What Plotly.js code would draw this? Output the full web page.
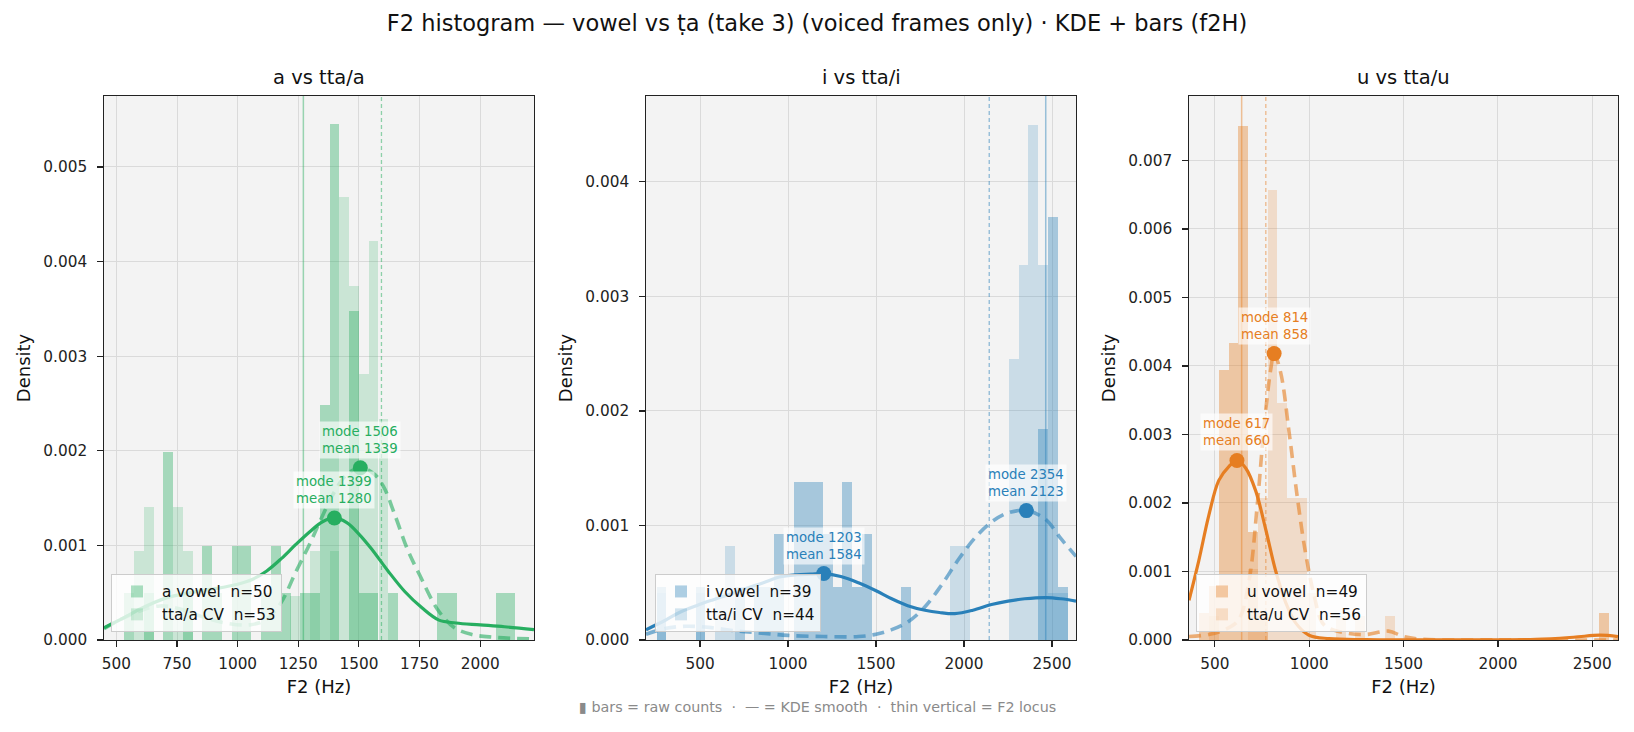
<!DOCTYPE html>
<html>
<head>
<meta charset="utf-8">
<script src="https://cdn.plot.ly/plotly-3.0.1.min.js"></script>
<style>
  html, body { margin: 0; padding: 0; background: #ffffff; }
  #chart { width: 1634px; height: 732px; }
</style>
</head>
<body>
<div id="chart"></div>
<script>
// ---------- panel "a": vowel a vs tta/a ----------
const aBinWidth = 40.3;
const aVowelN = 50;
const aCvN = 53;
const aVowelBins   = [553, 633, 714, 795, 875, 916, 996, 1037, 1117, 1157, 1198, 1278, 1319, 1359, 1399, 1480, 1520, 1560, 1641, 1843, 1883, 2084, 2124];
const aVowelCounts = [1, 1, 4, 1, 2, 1, 2, 2, 1, 2, 1, 1, 1, 5, 11, 7, 1, 1, 1, 1, 1, 1, 1];
const aCvBins      = [593, 633, 754, 795, 1238, 1319, 1399, 1439, 1480, 1520, 1560, 1601];
const aCvCounts    = [2, 3, 3, 2, 1, 2, 2, 10, 8, 6, 9, 5];
const aVowelKdeX = [449, 520, 600, 700, 800, 900, 1000, 1060, 1120, 1180, 1240, 1300, 1350, 1399, 1450, 1500, 1550, 1620, 1690, 1760, 1830, 1900, 2000, 2100, 2222];
const aVowelKdeY = [0.00013, 0.00022, 0.00033, 0.00044, 0.0005, 0.00054, 0.00059, 0.00064, 0.00073, 0.00086, 0.00101, 0.00115, 0.00125, 0.00129, 0.00124, 0.00112, 0.00097, 0.00073, 0.00051, 0.00034, 0.00021, 0.00018, 0.00016, 0.00014, 0.00011];
const aCvKdeX = [449, 520, 600, 680, 760, 850, 950, 1050, 1120, 1180, 1240, 1300, 1344, 1400, 1450, 1506, 1560, 1600, 1650, 1700, 1750, 1825, 1894, 1963, 2050, 2222];
const aCvKdeY = [0.00012, 0.00022, 0.00031, 0.00036, 0.00033, 0.00025, 0.00018, 0.00016, 0.00022, 0.0004, 0.00072, 0.00103, 0.00128, 0.00157, 0.00175, 0.00182, 0.00176, 0.00163, 0.00131, 0.00096, 0.00069, 0.00032, 0.00013, 0.00006, 0.00003, 0.00001];
const aModes = [1399, 1506];
const aModeDensity = [0.00129, 0.00182];
const aMeans = [1280, 1339];
const aLocus = [1271, 1593];

// ---------- panel "i": vowel i vs tta/i ----------
const iBinWidth = 55.6;
const iVowelN = 39;
const iCvN = 44;
const iVowelBins   = [280.6, 503.0, 725.4, 836.6, 892.2, 947.8, 1059.0, 1114.6, 1170.2, 1225.8, 1281.4, 1337.0, 1392.6, 1448.2, 1670.6, 2449.0, 2504.6, 2560.2];
const iVowelCounts = [1, 1, 1, 1, 1, 2, 3, 3, 3, 2, 1, 3, 1, 2, 1, 4, 8, 1];
const iCvBins      = [280.6, 503.0, 614.2, 669.8, 1948.6, 2004.2, 2282.2, 2337.8, 2393.4, 2449.0, 2504.6, 2560.2];
const iCvCounts    = [1, 1, 1, 2, 2, 2, 6, 8, 11, 8, 1, 1];
const iVowelKdeX = [193, 300, 383, 480, 572, 670, 761, 860, 951, 1050, 1130, 1203, 1300, 1400, 1500, 1589, 1680, 1778, 1860, 1948, 2050, 2156, 2250, 2345, 2468, 2550, 2636];
const iVowelKdeY = [0.00009, 0.00017, 0.00024, 0.0003, 0.00035, 0.0004, 0.00045, 0.0005, 0.00055, 0.00057, 0.000575, 0.00058, 0.000555, 0.0005, 0.00043, 0.00036, 0.0003, 0.00026, 0.00024, 0.00023, 0.00026, 0.00031, 0.00034, 0.00036, 0.00037, 0.00036, 0.00034];
const iCvKdeX = [193, 300, 420, 550, 700, 850, 1000, 1200, 1400, 1500, 1589, 1683, 1778, 1872, 1967, 2061, 2156, 2250, 2354, 2458, 2553, 2636];
const iCvKdeY = [0.00005, 0.0001, 0.00012, 0.00011, 0.00008, 0.00006, 0.00004, 0.00003, 0.00003, 0.00005, 0.00009, 0.00016, 0.00029, 0.00048, 0.0007, 0.00089, 0.00103, 0.00111, 0.00113, 0.00106, 0.00088, 0.00073];
const iModes = [1203, 2354];
const iModeDensity = [0.00058, 0.00113];
const iMeans = [1584, 2123];
const iLocus = [2464, 2143];

// ---------- panel "u": vowel u vs tta/u ----------
const uBinWidth = 51.7;
const uVowelN = 49;
const uCvN = 56;
const uVowelBins   = [443, 495, 547, 599, 650, 702, 754, 2563];
const uVowelCounts = [1, 2, 10, 11, 19, 4, 1, 1];
const uCvBins      = [495, 702, 754, 805, 857, 909, 960, 1012, 1167, 1271, 1426];
const uCvCounts    = [1, 3, 6, 19, 10, 6, 6, 2, 1, 1, 1];
const uVowelKdeX = [363, 415, 468, 521, 574, 617, 663, 716, 769, 822, 875, 928, 999, 1105, 1300, 1800, 2200, 2400, 2540, 2636];
const uVowelKdeY = [0.00058, 0.00116, 0.00182, 0.00233, 0.00253, 0.00262, 0.00251, 0.00218, 0.00162, 0.00101, 0.00055, 0.00025, 0.00007, 0.00002, 0.000005, 0.000003, 0.00001, 0.00004, 0.00007, 0.00005];
const uCvKdeX = [363, 468, 560, 627, 681, 725, 760, 796, 814, 849, 893, 937, 981, 1026, 1070, 1123, 1200, 1300, 1420, 1500, 1600, 2000, 2636];
const uCvKdeY = [0.00005, 0.00008, 0.00016, 0.0003, 0.00086, 0.00198, 0.00309, 0.00395, 0.00418, 0.0039, 0.00304, 0.00208, 0.00126, 0.00065, 0.00025, 0.00015, 0.0001, 0.00008, 0.00013, 0.00005, 0.00001, 0.000002, 0.000001];
const uModes = [617, 814];
const uModeDensity = [0.00262, 0.00418];
const uMeans = [660, 858];
const uLocus = [642, 770];

// ---------- figure geometry ----------
const FONT = 'DejaVu Sans, Verdana, sans-serif';
const FIG_W = 1634, FIG_H = 732;
const MARGIN = { l: 104, r: 16, t: 96, b: 92 };
const PAPER_W = FIG_W - MARGIN.l - MARGIN.r;
const PAPER_H = FIG_H - MARGIN.t - MARGIN.b;
const toPaperX = px => (px - MARGIN.l) / PAPER_W;
const toPaperY = py => (FIG_H - MARGIN.b - py) / PAPER_H;

function rgba(hex, a) {
  const n = parseInt(hex.slice(1), 16);
  return `rgba(${(n >> 16) & 255},${(n >> 8) & 255},${n & 255},${a})`;
}

const panels = [
  {
    vowel: 'a', color: '#27ae60', title: 'a vs tta/a',
    binWidth: aBinWidth, vowelN: aVowelN, cvN: aCvN,
    vowelBins: aVowelBins, vowelCounts: aVowelCounts, cvBins: aCvBins, cvCounts: aCvCounts,
    vowelKdeX: aVowelKdeX, vowelKdeY: aVowelKdeY, cvKdeX: aCvKdeX, cvKdeY: aCvKdeY,
    modes: aModes, modeDensity: aModeDensity, means: aMeans, locus: aLocus,
    domainPx: [104, 534], xRange: [449, 2222], xTick0: 500, xDtick: 250, yMax: 0.00575,
    legendLeftPx: 111
  },
  {
    vowel: 'i', color: '#2980b9', title: 'i vs tta/i',
    binWidth: iBinWidth, vowelN: iVowelN, cvN: iCvN,
    vowelBins: iVowelBins, vowelCounts: iVowelCounts, cvBins: iCvBins, cvCounts: iCvCounts,
    vowelKdeX: iVowelKdeX, vowelKdeY: iVowelKdeY, cvKdeX: iCvKdeX, cvKdeY: iCvKdeY,
    modes: iModes, modeDensity: iModeDensity, means: iMeans, locus: iLocus,
    domainPx: [646, 1076], xRange: [193, 2636], xTick0: 500, xDtick: 500, yMax: 0.00475,
    legendLeftPx: 655
  },
  {
    vowel: 'u', color: '#e67e22', title: 'u vs tta/u',
    binWidth: uBinWidth, vowelN: uVowelN, cvN: uCvN,
    vowelBins: uVowelBins, vowelCounts: uVowelCounts, cvBins: uCvBins, cvCounts: uCvCounts,
    vowelKdeX: uVowelKdeX, vowelKdeY: uVowelKdeY, cvKdeX: uCvKdeX, cvKdeY: uCvKdeY,
    modes: uModes, modeDensity: uModeDensity, means: uMeans, locus: uLocus,
    domainPx: [1189, 1618], xRange: [363, 2636], xTick0: 500, xDtick: 500, yMax: 0.00794,
    legendLeftPx: 1196
  }
];

const traces = [];
const shapes = [];
const annotations = [];
const layout = {
  width: FIG_W, height: FIG_H,
  margin: MARGIN,
  paper_bgcolor: '#ffffff',
  plot_bgcolor: '#f3f3f3',
  font: { family: FONT, color: '#222222', size: 15 },
  barmode: 'overlay',
  bargap: 0,
  showlegend: true,
  hovermode: false,
  title: {
    text: 'F2 histogram — vowel vs ṭa (take 3) (voiced frames only) · KDE + bars (f2H)',
    x: 0.5, xref: 'container', xanchor: 'center',
    y: 1 - 23 / FIG_H, yref: 'container', yanchor: 'middle',
    font: { family: FONT, size: 22.5, color: '#111111' }
  }
};

panels.forEach((p, k) => {
  const s = k === 0 ? '' : String(k + 1);
  const xa = 'x' + s, ya = 'y' + s;
  const legendId = 'legend' + s;
  const dens = (counts, n) => counts.map(c => c / (n * p.binWidth));

  // histogram bars
  traces.push({
    type: 'bar', x: p.vowelBins, y: dens(p.vowelCounts, p.vowelN), width: p.binWidth,
    marker: { color: rgba(p.color, 0.38), line: { width: 0 } },
    name: `${p.vowel} vowel\u00a0 n=${p.vowelN}`,
    xaxis: xa, yaxis: ya, legend: legendId, hoverinfo: 'skip'
  });
  traces.push({
    type: 'bar', x: p.cvBins, y: dens(p.cvCounts, p.cvN), width: p.binWidth,
    marker: { color: rgba(p.color, 0.2), line: { width: 0 } },
    name: `tta/${p.vowel} CV\u00a0 n=${p.cvN}`,
    xaxis: xa, yaxis: ya, legend: legendId, hoverinfo: 'skip'
  });

  // KDE curves
  traces.push({
    type: 'scatter', mode: 'lines', x: p.vowelKdeX, y: p.vowelKdeY,
    line: { color: p.color, width: 3.2, shape: 'spline', smoothing: 1 },
    xaxis: xa, yaxis: ya, showlegend: false, hoverinfo: 'skip'
  });
  traces.push({
    type: 'scatter', mode: 'lines', x: p.cvKdeX, y: p.cvKdeY,
    line: { color: rgba(p.color, 0.6), width: 3.6, shape: 'spline', smoothing: 1, dash: '12px,7px' },
    xaxis: xa, yaxis: ya, showlegend: false, hoverinfo: 'skip'
  });

  // mode markers
  traces.push({
    type: 'scatter', mode: 'markers', x: p.modes, y: p.modeDensity,
    marker: { color: p.color, size: 15, line: { width: 0 } },
    xaxis: xa, yaxis: ya, showlegend: false, hoverinfo: 'skip', cliponaxis: false
  });

  // mode / mean labels
  p.modes.forEach((m, j) => {
    annotations.push({
      xref: xa, yref: ya, x: m, y: p.modeDensity[j],
      text: `mode ${m}<br>mean ${p.means[j]}`,
      showarrow: false, xanchor: 'center', yanchor: 'bottom', yshift: 9,
      align: 'left',
      font: { family: FONT, size: 13.3, color: p.color },
      bgcolor: 'rgba(255,255,255,0.65)', borderpad: 2
    });
  });

  // F2 locus lines (solid = vowel, dashed = CV)
  shapes.push({
    type: 'line', xref: xa, yref: ya + ' domain', x0: p.locus[0], x1: p.locus[0], y0: 0, y1: 1,
    line: { color: rgba(p.color, 0.45), width: 1.5 }
  });
  shapes.push({
    type: 'line', xref: xa, yref: ya + ' domain', x0: p.locus[1], x1: p.locus[1], y0: 0, y1: 1,
    line: { color: rgba(p.color, 0.5), width: 1.3, dash: '4px,3px' }
  });

  // panel title
  const dom = [toPaperX(p.domainPx[0]), toPaperX(p.domainPx[1])];
  annotations.push({
    xref: 'paper', yref: 'paper', x: (dom[0] + dom[1]) / 2, y: 1, yshift: 19,
    xanchor: 'center', yanchor: 'middle', showarrow: false,
    text: p.title, font: { family: FONT, size: 19.5, color: '#111111' }
  });

  const axisCommon = {
    showline: true, mirror: true, linecolor: '#222222', linewidth: 1.3,
    ticks: 'outside', ticklen: 5.5, tickwidth: 1.2, tickcolor: '#222222',
    showgrid: true, gridcolor: '#dadada', gridwidth: 1, zeroline: false,
    tickfont: { family: FONT, size: 15.3, color: '#222222' }
  };
  layout['xaxis' + s] = Object.assign({}, axisCommon, {
    domain: dom, anchor: ya, range: p.xRange,
    tick0: p.xTick0, dtick: p.xDtick, ticklabelstandoff: 4,
    title: { text: 'F2 (Hz)', font: { family: FONT, size: 18, color: '#111111' }, standoff: 8 }
  });
  layout['yaxis' + s] = Object.assign({}, axisCommon, {
    domain: [0, 1], anchor: xa, range: [0, p.yMax],
    tick0: 0, dtick: 0.001, tickformat: '.3f', ticklabelstandoff: 7,
    title: { text: 'Density', font: { family: FONT, size: 18, color: '#111111' }, standoff: 8 }
  });
  layout[legendId] = {
    x: toPaperX(p.legendLeftPx), y: toPaperY(632), xanchor: 'left', yanchor: 'bottom',
    bgcolor: 'rgba(255,255,255,0.8)', bordercolor: '#cccccc', borderwidth: 1,
    font: { family: FONT, size: 15.3, color: '#111111' },
    traceorder: 'normal', itemwidth: 40, tracegroupgap: 0
  };
});

// footnote under the panels
annotations.push({
  xref: 'paper', yref: 'paper', x: toPaperX(FIG_W / 2), y: toPaperY(707),
  xanchor: 'center', yanchor: 'middle', showarrow: false,
  text: '▮ bars = raw counts\u00a0 ·\u00a0 — = KDE smooth\u00a0 ·\u00a0 thin vertical = F2 locus',
  font: { family: FONT, size: 14.3, color: '#8a8a8a' }
});

layout.shapes = shapes;
layout.annotations = annotations;

Plotly.newPlot('chart', traces, layout, { displayModeBar: false, staticPlot: true });
</script>
</body>
</html>
